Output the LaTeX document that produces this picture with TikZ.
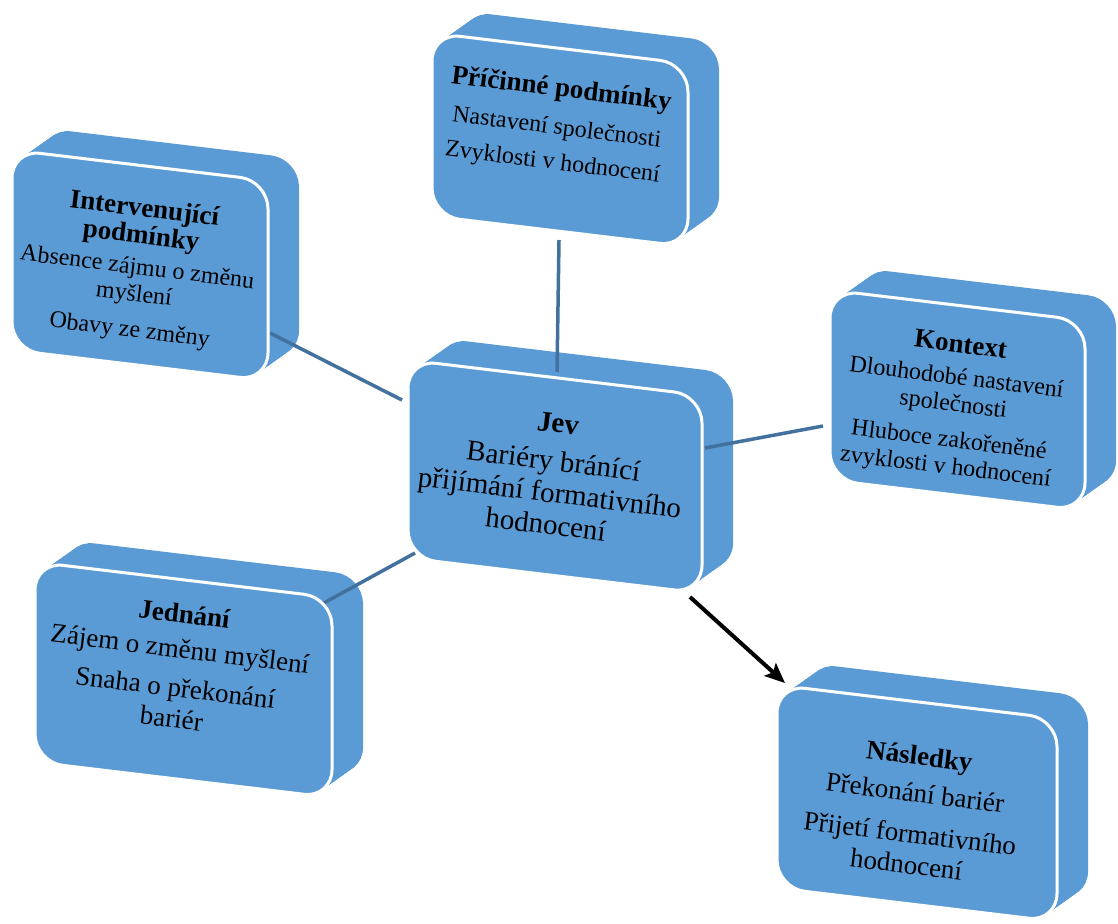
\documentclass[tikz,border=0pt]{standalone}
\usepackage{fontspec}
\setmainfont{Liberation Serif}
\usetikzlibrary{arrows.meta}
\definecolor{boxblue}{HTML}{5B9BD5}
\definecolor{linkblue}{HTML}{41719C}
\newcommand{\facepath}[4]{(#1,#2) -- (#1+#3,#2+0.12*#3) -- (#1+#3,#2+0.12*#3+#4) -- (#1,#2+#4) -- cycle}
\newcommand{\boxback}[4]{%
  \foreach \k in {0,...,20}{\fill[boxblue, rounded corners=28pt, shift={(1.55*\k,-1.1*\k)}] \facepath{#1}{#2}{#3}{#4};}}
\newcommand{\boxfront}[4]{%
  \filldraw[boxblue, draw=white, line width=3pt, rounded corners=28pt] \facepath{#1}{#2}{#3}{#4};}
\tikzset{
  link/.style={draw=linkblue, line width=3.5pt},
  arrowlink/.style={draw=black, line width=4pt, -{Stealth[length=20pt,width=17pt,inset=4pt]}},
  boxtext/.style={align=center, rotate=-7, inner sep=0pt, text=black},
}
\newcommand{\ttl}[1]{{\fontsize{27}{31}\selectfont\bfseries #1}}
\begin{document}
\begin{tikzpicture}[x=1pt,y=-1pt]
\useasboundingbox (0,0) rectangle (1118,923);
% back extrusions
\boxback{432}{33}{256}{183}
\boxback{12}{150}{256}{200}
\boxback{408}{360}{294}{198}
\boxback{830}{290}{255}{190}
\boxback{35}{562}{297}{200}
\boxback{777}{685}{280}{203}
% connector end points
\coordinate (P-s) at (559,240);
\coordinate (J-n) at (557,372);
\coordinate (I-e) at (270,333);
\coordinate (J-w) at (402,400);
\coordinate (K-w) at (823,426);
\coordinate (J-e) at (705,448);
\coordinate (D-e) at (322,604);
\coordinate (J-sw) at (415,553);
\coordinate (J-se) at (690,597);
\coordinate (N-nw) at (785,683);
\draw[link] (P-s) -- (J-n);
\draw[link] (I-e) -- (J-w);
\draw[link] (K-w) -- (J-e);
\draw[link] (D-e) -- (J-sw);
\draw[arrowlink] (J-se) -- (N-nw);
% front faces
\boxfront{432}{33}{256}{183}
\boxfront{12}{150}{256}{200}
\boxfront{408}{360}{294}{198}
\boxfront{830}{290}{255}{190}
\boxfront{35}{562}{297}{200}
\boxfront{777}{685}{280}{203}
% texts
\node[boxtext, font=\fontsize{24}{28}\selectfont] (P) at (557,126)
  {\ttl{Příčinné podmínky}\\[10pt] Nastavení společnosti\\[7pt] Zvyklosti v hodnocení};
\node[boxtext, font=\fontsize{24}{27}\selectfont] (I) at (137,270)
  {\ttl{Intervenující}\\ \ttl{podmínky}\\[4pt] Absence zájmu o změnu\\ myšlení\\[9pt] Obavy ze změny};
\node[boxtext, font=\fontsize{29}{32}\selectfont] (J) at (552,474)
  {{\bfseries Jev}\\[6pt] Bariéry bránící\\ přijímání formativního\\ hodnocení};
\node[boxtext, font=\fontsize{24}{27}\selectfont] (K) at (953,407)
  {\ttl{Kontext}\\[5pt] Dlouhodobé nastavení\\ společnosti\\[9pt] Hluboce zakořeněné\\ zvyklosti v hodnocení};
\node[boxtext, font=\fontsize{27}{31}\selectfont] (D) at (178,666)
  {\ttl{Jednání}\\[4pt] Zájem o změnu myšlení\\[8pt] Snaha o překonání\\ bariér};
\node[boxtext, font=\fontsize{27}{31}\selectfont] (N) at (913,810)
  {\ttl{Následky}\\[6pt] Překonání bariér\\[10pt] Přijetí formativního\\ hodnocení};
\end{tikzpicture}
\end{document}
